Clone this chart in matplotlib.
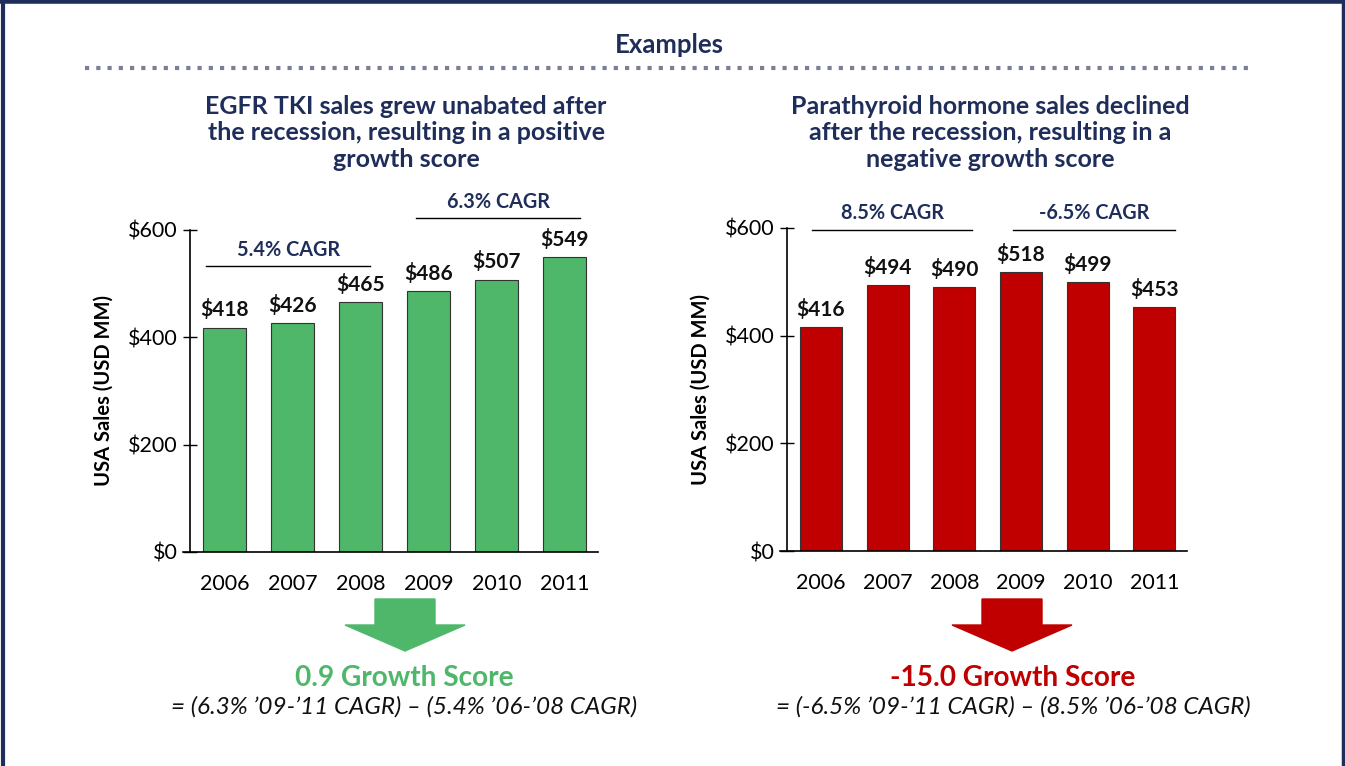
import matplotlib.pyplot as plt
from matplotlib.patches import Polygon
from matplotlib.lines import Line2D

plt.rcParams['font.family'] = ['Lato', 'DejaVu Sans']

years = ['2006', '2007', '2008', '2009', '2010', '2011']
egfr_sales = [418, 426, 465, 486, 507, 549]
pth_sales = [416, 494, 490, 518, 499, 453]
yticks = [0, 200, 400, 600]

egfr_title = 'EGFR TKI sales grew unabated after\nthe recession, resulting in a positive\ngrowth score'
pth_title = 'Parathyroid hormone sales declined\nafter the recession, resulting in a\nnegative growth score'
egfr_cagr = ['5.4% CAGR', '6.3% CAGR']
pth_cagr = ['8.5% CAGR', '-6.5% CAGR']
egfr_score = '0.9 Growth Score'
pth_score = '-15.0 Growth Score'
egfr_formula = "= (6.3% \u201909-\u201911 CAGR) \u2013 (5.4% \u201906-\u201908 CAGR)"
pth_formula = "= (-6.5% \u201909-\u201911 CAGR) \u2013 (8.5% \u201906-\u201908 CAGR)"

NAVY = '#1f2d5a'
GREEN = '#4fb76a'
RED = '#c00000'

W, H = 1345, 766
fig = plt.figure(figsize=(W / 100, H / 100), dpi=100)


def px(x, y):
    # pixel (from top-left) -> figure fraction
    return x / W, 1 - y / H


def add_chart(left, right, top, bottom, values, color, cagr, brackets):
    x0, y0 = px(left, bottom)
    x1, y1 = px(right, top)
    ax = fig.add_axes([x0, y0, x1 - x0, y1 - y0])
    xs = range(len(values))
    ax.bar(xs, values, width=0.63, color=color, edgecolor='#333333', linewidth=0.8, zorder=2)
    ax.set_xlim(-0.51, 5.49)
    ax.set_ylim(0, 600)
    ax.set_yticks(yticks)
    ax.set_yticklabels(['$%d' % t for t in yticks], fontsize=15.5)
    ax.set_xticks(list(xs))
    ax.set_xticklabels(years, fontsize=15.5)
    ax.tick_params(axis='x', length=0, pad=16)
    ax.tick_params(axis='y', direction='inout', length=10, width=1, pad=4)
    for s in ['top', 'right']:
        ax.spines[s].set_visible(False)
    ax.spines['left'].set_linewidth(1.2)
    ax.spines['bottom'].set_linewidth(1.2)
    ax.spines['bottom'].set_bounds(-0.62, 5.49)
    ax.set_ylabel('USA Sales (USD MM)', fontsize=14.5, fontweight='bold', labelpad=10)
    for i, v in enumerate(values):
        ax.text(i, v + 14, '$%d' % v, ha='center', va='bottom', fontsize=15,
                fontweight='bold', color='#111111')
    for label, (xa, xb, yl) in zip(cagr, brackets):
        ax.plot([xa, xb], [yl, yl], color='black', lw=1, clip_on=False)
        ax.text((xa + xb) / 2, yl + 12, label, ha='center', va='bottom',
                fontsize=14.3, fontweight='bold', color=NAVY)
    return ax


add_chart(190, 598, 230, 552, egfr_sales, GREEN, egfr_cagr,
          [(-0.27, 2.14, 532), (2.82, 5.23, 622)])
add_chart(787, 1187, 228, 551, pth_sales, RED, pth_cagr,
          [(-0.13, 2.27, 597), (2.88, 5.31, 597)])

# header
fig.text(*px(669, 45), 'Examples', ha='center', va='center', fontsize=18.5,
         fontweight='bold', color=NAVY)
fig.add_artist(Line2D([85 / W, 1252 / W], [1 - 68 / H] * 2, color='#7a7f95', lw=3,
                      linestyle=(0, (1, 1.7)), transform=fig.transFigure))

# chart titles
fig.text(*px(406, 133), egfr_title, ha='center', va='center', fontsize=18,
         fontweight='bold', color=NAVY, linespacing=1.2)
fig.text(*px(990, 133), pth_title, ha='center', va='center', fontsize=18,
         fontweight='bold', color=NAVY, linespacing=1.2)

# arrows
for cx, color in [(405, GREEN), (1012, RED)]:
    pts = [(cx - 30, 599), (cx + 30, 599), (cx + 30, 625), (cx + 60, 625),
           (cx, 651), (cx - 60, 625), (cx - 30, 625)]
    fig.add_artist(Polygon([px(x, y) for x, y in pts], closed=True, color=color,
                           transform=fig.transFigure))

# scores
fig.text(*px(404, 678), egfr_score, ha='center', va='center', fontsize=20.2,
         fontweight='bold', color=GREEN)
fig.text(*px(1013, 678), pth_score, ha='center', va='center', fontsize=20.2,
         fontweight='bold', color=RED)
fig.text(*px(404, 707), egfr_formula, ha='center', va='center', fontsize=17.5,
         style='italic', color='#111111')
fig.text(*px(1013, 707), pth_formula, ha='center', va='center', fontsize=17.5,
         style='italic', color='#111111')

# frame
for xs_, ys_, lw in [([3, 3], [0, H], 3), ([W - 2, W - 2], [0, H], 2.5), ([0, W], [1, 1], 4)]:
    fig.add_artist(Line2D([x / W for x in xs_], [1 - y / H for y in ys_], color=NAVY,
                          lw=lw, transform=fig.transFigure))

fig.savefig('out.png', dpi=100)
